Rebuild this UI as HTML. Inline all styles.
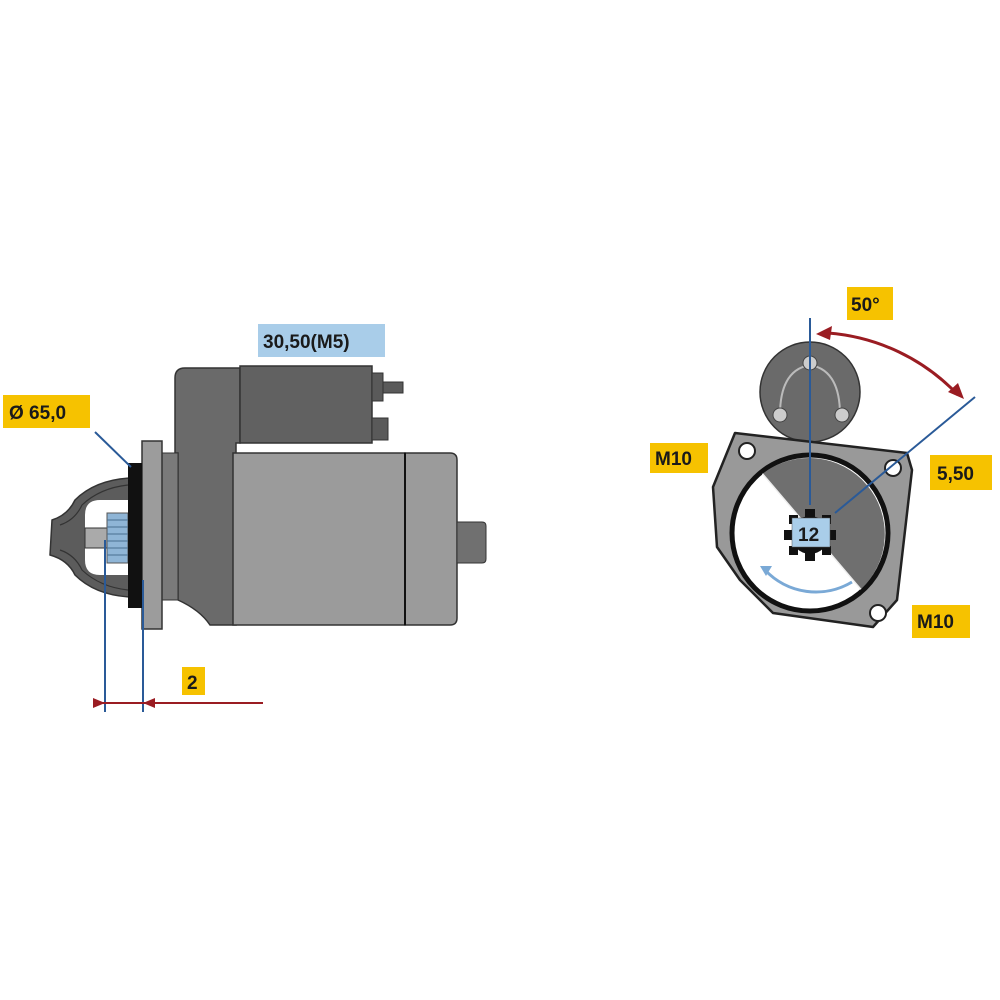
<!DOCTYPE html>
<html><head><meta charset="utf-8"><style>
html,body{margin:0;padding:0;background:#fff;width:1000px;height:1000px;overflow:hidden}
svg text{font-family:"Liberation Sans",sans-serif;font-weight:bold;font-size:19px;fill:#1a1a1a}
</style></head><body>
<svg width="1000" height="1000" viewBox="0 0 1000 1000" xmlns="http://www.w3.org/2000/svg">
<!-- LEFT VIEW -->
<path d="M185,368 L240,368 L240,443 L236,443 L236,625 L210,625 Q200,610 178,600 L178,453 L175,453 L175,378 Q175,368 185,368 Z" fill="#6a6a6a" stroke="#333" stroke-width="1.5"/>
<rect x="240" y="366" width="132" height="77" fill="#616161" stroke="#333" stroke-width="1.5"/>
<rect x="372" y="373" width="11" height="28" fill="#5a5a5a" stroke="#333"/>
<rect x="383" y="382" width="20" height="11" fill="#5a5a5a" stroke="#333"/>
<rect x="372" y="418" width="16" height="22" fill="#5a5a5a" stroke="#333"/>
<rect x="162" y="453" width="16" height="147" fill="#7a7a7a" stroke="#333"/>
<rect x="233" y="453" width="172" height="172" fill="#9b9b9b" stroke="#333" stroke-width="1.5"/>
<path d="M405,453 L450,453 Q457,453 457,460 L457,618 Q457,625 450,625 L405,625 Z" fill="#9b9b9b" stroke="#333" stroke-width="1.5"/>
<line x1="405" y1="453" x2="405" y2="625" stroke="#111" stroke-width="2"/>
<path d="M457,522 L482,522 Q486,522 486,526 L486,559 Q486,563 482,563 L457,563 Z" fill="#707070" stroke="#333"/>
<rect x="142" y="441" width="20" height="188" fill="#9c9c9c" stroke="#333" stroke-width="1.5"/>
<path d="M130,478 Q95,480 75,500 Q68,515 52,520 L50,555 Q68,560 75,575 Q95,595 130,597 Z" fill="#5c5c5c" stroke="#333" stroke-width="1.5"/>
<path d="M130,500 L100,500 Q85,500 85,515 L85,560 Q85,575 100,575 L130,575 Z" fill="#fff"/>
<path d="M128,485 Q100,488 82,505 Q75,520 60,525" fill="none" stroke="#333" stroke-width="1.2"/>
<path d="M128,590 Q100,587 82,570 Q75,555 60,550" fill="none" stroke="#333" stroke-width="1.2"/>
<rect x="85" y="528" width="24" height="20" fill="#aaa" stroke="#333"/>
<rect x="107" y="513" width="21" height="50" fill="#8fb5d6" stroke="#555"/>
<g stroke="#4a6f90" stroke-width="1"><line x1="107" y1="520" x2="128" y2="520"/><line x1="107" y1="527" x2="128" y2="527"/><line x1="107" y1="534" x2="128" y2="534"/><line x1="107" y1="541" x2="128" y2="541"/><line x1="107" y1="548" x2="128" y2="548"/><line x1="107" y1="555" x2="128" y2="555"/></g>
<rect x="128" y="463" width="14" height="145" fill="#111"/>
<line x1="95" y1="432" x2="131" y2="467" stroke="#2a5a98" stroke-width="2"/>
<line x1="105" y1="540" x2="105" y2="712" stroke="#2a5a98" stroke-width="2"/>
<line x1="143" y1="580" x2="143" y2="712" stroke="#2a5a98" stroke-width="2"/>
<line x1="93" y1="703" x2="263" y2="703" stroke="#9a1c22" stroke-width="2"/>
<path d="M93,698 L105,703 L93,708 Z" fill="#9a1c22"/>
<path d="M155,698 L143,703 L155,708 Z" fill="#9a1c22"/>
<rect x="258" y="324" width="127" height="33" fill="#a9cde9"/>
<text x="263" y="348">30,50(M5)</text>
<rect x="3" y="395" width="87" height="33" fill="#f6c200"/>
<text x="9" y="419">Ø 65,0</text>
<rect x="182" y="667" width="23" height="28" fill="#f6c200"/>
<text x="187" y="689">2</text>

<!-- RIGHT VIEW -->
<circle cx="810" cy="392" r="50" fill="#6a6a6a" stroke="#333" stroke-width="1.5"/>
<path d="M780,415 Q780,370 810,365 Q840,370 840,415" fill="none" stroke="#bbb" stroke-width="2"/>
<circle cx="810" cy="363" r="7" fill="#ccc" stroke="#444"/>
<circle cx="780" cy="415" r="7" fill="#ccc" stroke="#444"/>
<circle cx="842" cy="415" r="7" fill="#ccc" stroke="#444"/>
<path d="M735,433 L907,453 L912,470 L897,600 L873,627 L773,613 L740,580 L717,547 L713,487 Z" fill="#999" stroke="#222" stroke-width="2.5" stroke-linejoin="round"/>
<circle cx="747" cy="451" r="8" fill="#fff" stroke="#222" stroke-width="2"/>
<circle cx="893" cy="468" r="8" fill="#fff" stroke="#222" stroke-width="2"/>
<circle cx="878" cy="613" r="8" fill="#fff" stroke="#222" stroke-width="2"/>
<circle cx="810" cy="533" r="78" fill="#fff" stroke="#111" stroke-width="5"/>
<path d="M762.5,473.7 A76,76 0 0 1 860.9,589.3 Z" fill="#6f6f6f"/>
<line x1="762.5" y1="473.7" x2="860.9" y2="589.3" stroke="#eee" stroke-width="1.5"/>
<circle cx="810" cy="535" r="19" fill="#111"/>
<g fill="#111">
<rect x="805" y="509" width="10" height="10"/><rect x="805" y="551" width="10" height="10"/>
<rect x="784" y="530" width="10" height="10"/><rect x="826" y="530" width="10" height="10"/>
<rect x="789" y="515" width="9" height="9"/><rect x="822" y="515" width="9" height="9"/>
<rect x="789" y="546" width="9" height="9"/><rect x="822" y="546" width="9" height="9"/>
</g>
<rect x="792" y="518" width="38" height="29" fill="#a9cde9" stroke="#555" stroke-width="0.5"/>
<text x="798" y="541">12</text>
<path d="M852,582 A70,70 0 0 1 765,570" fill="none" stroke="#7aa9d6" stroke-width="3"/>
<path d="M760,566 L772,566 L766,576 Z" fill="#7aa9d6"/>
<line x1="810" y1="318" x2="810" y2="505" stroke="#2a5a98" stroke-width="2"/>
<line x1="835" y1="513" x2="975" y2="397" stroke="#2a5a98" stroke-width="2"/>
<path d="M828,333 A200,200 0 0 1 958,395" fill="none" stroke="#9a1c22" stroke-width="3"/>
<path d="M816,334 L832,326 L830,340 Z" fill="#9a1c22"/>
<path d="M964,399 L948,392 L958,383 Z" fill="#9a1c22"/>
<rect x="847" y="287" width="46" height="33" fill="#f6c200"/>
<text x="851" y="311">50°</text>
<rect x="650" y="443" width="58" height="30" fill="#f6c200"/>
<text x="655" y="465">M10</text>
<rect x="930" y="455" width="62" height="35" fill="#f6c200"/>
<text x="937" y="480">5,50</text>
<rect x="912" y="605" width="58" height="33" fill="#f6c200"/>
<text x="917" y="628">M10</text>
</svg>
</body></html>
